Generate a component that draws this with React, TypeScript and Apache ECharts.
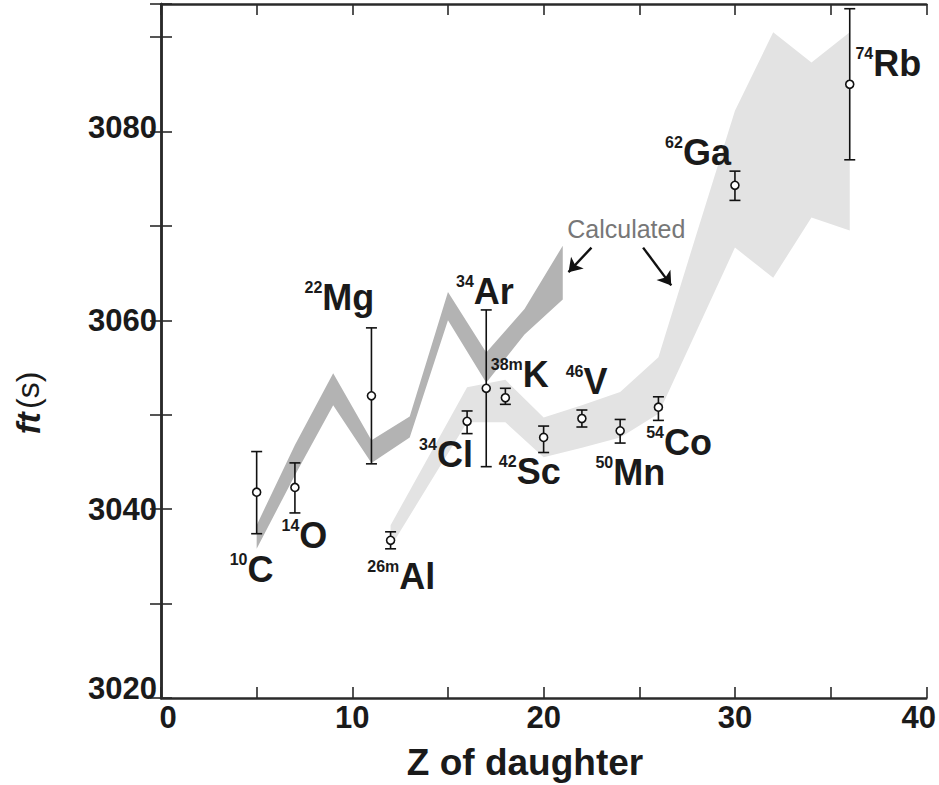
import React, { useEffect, useRef } from "react";
import * as echarts from "echarts";

// ---- measured superallowed ft values (Z of daughter) ----
const nuclideZ = [5, 7, 11, 12, 16, 17, 18, 20, 22, 24, 26, 30, 36];
const nuclideFt = [3041.8, 3042.3, 3052.0, 3036.7, 3049.3, 3052.8, 3051.8, 3047.6, 3049.6, 3048.3, 3050.8, 3074.3, 3085.0];
const ftLow = [3037.4, 3039.6, 3044.8, 3035.8, 3048.0, 3044.5, 3051.1, 3046.0, 3048.7, 3047.0, 3049.4, 3072.7, 3077.0];
const ftHigh = [3046.1, 3044.9, 3059.2, 3037.6, 3050.4, 3061.1, 3052.8, 3048.8, 3050.5, 3049.5, 3051.9, 3075.8, 3093.0];
const massNumbers = ["10", "14", "22", "26m", "34", "34", "38m", "42", "46", "50", "54", "62", "74"];
const elements = ["C", "O", "Mg", "Al", "Cl", "Ar", "K", "Sc", "V", "Mn", "Co", "Ga", "Rb"];
// label anchors (top-left of label, in data coordinates)
const labelZ = [3.59, 6.3, 7.5, 10.78, 13.49, 15.42, 17.24, 17.66, 21.15, 22.71, 25.36, 26.35, 36.3];
const labelFt = [3035.52, 3039.12, 3064.33, 3034.78, 3047.7, 3064.97, 3056.18, 3045.9, 3055.43, 3045.79, 3048.97, 3079.69, 3089.12];

// ---- calculated bands ----
const tzMinus1Z = [5, 7, 9, 11, 13, 15, 17, 19, 21];
const tzMinus1Low = [3035.8, 3043.6, 3051.0, 3044.9, 3047.6, 3060.0, 3053.4, 3058.5, 3062.2];
const tzMinus1High = [3038.3, 3046.8, 3054.4, 3047.3, 3049.8, 3063.0, 3056.6, 3061.2, 3067.9];
const tz0Z = [12, 14, 16, 18, 20, 22, 24, 26, 28, 30, 32, 34, 36];
const tz0Low = [3036.0, 3042.6, 3049.2, 3049.2, 3045.5, 3046.5, 3047.6, 3050.1, 3058.9, 3067.7, 3064.5, 3070.9, 3069.5];
const tz0High = [3038.3, 3045.6, 3052.9, 3053.7, 3049.7, 3051.0, 3052.4, 3056.1, 3069.2, 3082.2, 3090.5, 3087.3, 3090.5];

// ---- annotation ----
const calcText = "Calculated";
const calcPos = [24.32, 3069.7];
const arrowStarts = [[22.5, 3067.7], [25.2, 3067.7]];
const arrowEnds = [[21.3, 3065.1], [26.67, 3063.7]];

const xTicks = { min: 0, max: 40, interval: 5 };
const yTicks = { min: 3020, max: 3093.5, interval: 10 };

const FONT = "'Liberation Sans', Arial, Helvetica, sans-serif";
const INK = "#1a1a1a";

function bandRenderer(zs: number[], lo: number[], hi: number[], color: string) {
  return (params: any, api: any) => {
    if (params.dataIndex !== 0) return null;
    const pts: number[][] = [];
    for (let i = 0; i < zs.length; i++) pts.push(api.coord([zs[i], hi[i]]));
    for (let i = zs.length - 1; i >= 0; i--) pts.push(api.coord([zs[i], lo[i]]));
    return { type: "polygon", shape: { points: pts }, style: { fill: color } };
  };
}

export default function App() {
  const ref = useRef<HTMLDivElement>(null);
  useEffect(() => {
    if (!ref.current) return;
    const chart = echarts.init(ref.current, undefined, { renderer: "svg" });
    const axisLineStyle = { color: "#2a2a2a", width: 2.5 };
    const tickStyle = { color: "#2a2a2a", width: 1.6 };
    const option: any = {
      animation: false,
      backgroundColor: "#ffffff",
      grid: { left: 161, right: 9, top: 4, bottom: 87, containLabel: false },
      xAxis: [
        {
          type: "value",
          position: "bottom",
          ...xTicks,
          axisLine: { show: true, lineStyle: axisLineStyle },
          axisTick: { show: true, inside: true, length: 11, lineStyle: tickStyle },
          splitLine: { show: false },
          axisLabel: {
            show: true,
            interval: 0,
            showMinLabel: true,
            showMaxLabel: true,
            margin: 4,
            color: INK,
            fontFamily: FONT,
            fontWeight: "bold",
            fontSize: 31,
            formatter: (v: number) => {
              if (v % 10 !== 0) return "";
              if (v === 0) return "{l|0}";
              if (v === 40) return "{r|40}";
              return String(v);
            },
            rich: {
              l: { fontFamily: FONT, fontWeight: "bold", fontSize: 31, color: INK, padding: [0, 0, 0, 14] },
              r: { fontFamily: FONT, fontWeight: "bold", fontSize: 31, color: INK, padding: [0, 15, 0, 0] },
            },
          },
        },
        {
          type: "value",
          position: "top",
          ...xTicks,
          axisLine: { show: true, lineStyle: axisLineStyle },
          axisTick: { show: true, inside: true, length: 11, lineStyle: tickStyle },
          splitLine: { show: false },
          axisLabel: { show: false },
        },
      ],
      yAxis: [
        {
          type: "value",
          position: "left",
          ...yTicks,
          axisLine: { show: true, lineStyle: axisLineStyle },
          axisTick: { show: true, inside: true, length: 11, lineStyle: tickStyle },
          splitLine: { show: false },
          axisLabel: {
            show: true,
            margin: 4,
            color: INK,
            fontFamily: FONT,
            fontWeight: "bold",
            fontSize: 31,
            formatter: (v: number) => {
              if (Math.abs(v % 20) > 1e-6 || v > 3085) return "";
              if (v === 3020) return "{lo|3020}";
              if (v === 3080) return "{hi|3080}";
              return String(v);
            },
            rich: {
              lo: { fontFamily: FONT, fontWeight: "bold", fontSize: 31, color: INK, padding: [0, 0, 19, 0] },
              hi: { fontFamily: FONT, fontWeight: "bold", fontSize: 31, color: INK, padding: [0, 0, 8, 0] },
            },
          },
        },
        {
          type: "value",
          position: "right",
          ...yTicks,
          axisLine: { show: true, lineStyle: axisLineStyle },
          axisTick: { show: true, inside: true, length: 11, lineStyle: tickStyle },
          splitLine: { show: false },
          axisLabel: { show: false },
        },
      ],
      graphic: [
        {
          type: "text",
          x: 28,
          y: 403,
          rotation: Math.PI / 2,
          style: {
            text: "{i|ft} {n|(s)}",
            align: "center",
            verticalAlign: "middle",
            fill: INK,
            rich: {
              i: { fontFamily: FONT, fontStyle: "italic", fontWeight: "bold", fontSize: 33, fill: INK },
              n: { fontFamily: FONT, fontWeight: "normal", fontSize: 32, fill: INK },
            },
          },
        },
        {
          type: "text",
          x: 525,
          y: 762,
          style: {
            text: "Z of daughter",
            align: "center",
            verticalAlign: "middle",
            fill: INK,
            font: `bold 37px ${FONT}`,
          },
        },
      ],
      series: [
        {
          type: "custom",
          name: "Tz=0 calc",
          xAxisIndex: 0,
          yAxisIndex: 0,
          z: 1,
          silent: true,
          encode: { x: 0, y: [1, 2] },
          data: tz0Z.map((z, i) => [z, tz0Low[i], tz0High[i]]),
          renderItem: bandRenderer(tz0Z, tz0Low, tz0High, "#e3e3e3"),
        },
        {
          type: "custom",
          name: "Tz=-1 calc",
          xAxisIndex: 0,
          yAxisIndex: 0,
          z: 2,
          silent: true,
          encode: { x: 0, y: [1, 2] },
          data: tzMinus1Z.map((z, i) => [z, tzMinus1Low[i], tzMinus1High[i]]),
          renderItem: bandRenderer(tzMinus1Z, tzMinus1Low, tzMinus1High, "#b3b3b3"),
        },
        {
          type: "custom",
          name: "error bars",
          z: 3,
          silent: true,
          encode: { x: 0, y: [1, 2] },
          data: nuclideZ.map((z, i) => [z, ftLow[i], ftHigh[i]]),
          renderItem: (params: any, api: any) => {
            const x = api.value(0);
            const p1 = api.coord([x, api.value(1)]);
            const p2 = api.coord([x, api.value(2)]);
            const cw = 5.5;
            const st = { stroke: "#111", lineWidth: 1.6 };
            return {
              type: "group",
              children: [
                { type: "line", shape: { x1: p1[0], y1: p1[1], x2: p2[0], y2: p2[1] }, style: st },
                { type: "line", shape: { x1: p1[0] - cw, y1: p1[1], x2: p1[0] + cw, y2: p1[1] }, style: st },
                { type: "line", shape: { x1: p2[0] - cw, y1: p2[1], x2: p2[0] + cw, y2: p2[1] }, style: st },
              ],
            };
          },
        },
        {
          type: "scatter",
          name: "measured",
          z: 4,
          symbol: "circle",
          symbolSize: 8,
          itemStyle: { color: "#ffffff", borderColor: "#111", borderWidth: 1.6, opacity: 1 },
          data: nuclideZ.map((z, i) => [z, nuclideFt[i]]),
        },
        {
          type: "custom",
          name: "labels",
          z: 5,
          silent: true,
          data: labelZ.map((z, i) => [z, labelFt[i]]),
          renderItem: (params: any, api: any) => {
            const i = params.dataIndex;
            const p = api.coord([api.value(0), api.value(1)]);
            return {
              type: "text",
              x: p[0],
              y: p[1],
              style: {
                text: `{s|${massNumbers[i]}}{m|${elements[i]}}`,
                align: "left",
                verticalAlign: "top",
                fill: INK,
                rich: {
                  s: { fontFamily: FONT, fontWeight: "bold", fontSize: 16, lineHeight: 22, verticalAlign: "top", fill: INK },
                  m: { fontFamily: FONT, fontWeight: "bold", fontSize: 36, lineHeight: 36, fill: INK },
                },
              },
            };
          },
        },
        {
          type: "custom",
          name: "calc label",
          z: 5,
          silent: true,
          data: [calcPos],
          renderItem: (params: any, api: any) => {
            const p = api.coord([api.value(0), api.value(1)]);
            return {
              type: "text",
              x: p[0],
              y: p[1],
              style: {
                text: calcText,
                align: "center",
                verticalAlign: "middle",
                fill: "#777777",
                font: `normal 25px ${FONT}`,
              },
            };
          },
        },
        {
          type: "lines",
          name: "arrows",
          coordinateSystem: "cartesian2d",
          z: 6,
          silent: true,
          symbol: ["none", "arrow"],
          symbolSize: 13,
          lineStyle: { color: "#111", width: 2.4, opacity: 1 },
          data: arrowStarts.map((s, i) => ({ coords: [s, arrowEnds[i]] })),
        },
      ],
    };
    chart.setOption(option);
    return () => chart.dispose();
  }, []);
  return (
    <div
      ref={ref}
      style={{ position: "fixed", left: 0, top: 0, width: 939, height: 785, background: "#fff" }}
    />
  );
}
